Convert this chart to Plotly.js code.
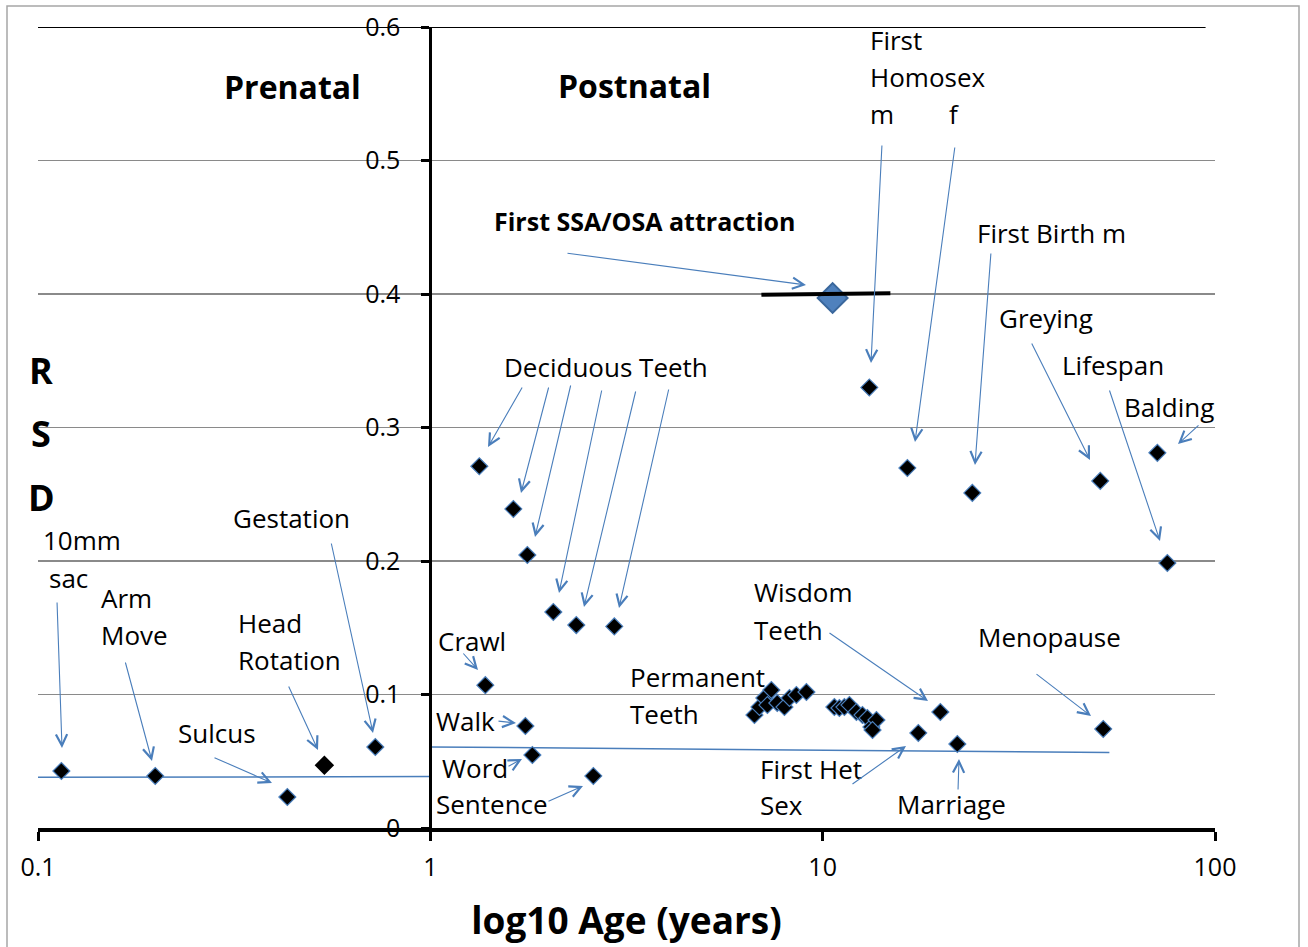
<!DOCTYPE html>
<html>
<head>
<meta charset="utf-8">
<script src="https://cdn.plot.ly/plotly-3.0.1.min.js"></script>
<style>html,body{margin:0;padding:0;background:#fff;}#chart{width:1308px;height:947px;}</style>
</head>
<body>
<div id="chart"></div>
<script>
// ---- data (age in years, RSD) ----
const prenatalAge = [0.1147, 0.199, 0.432, 0.724];       // 10mm sac, arm move, sulcus, gestation
const prenatalRSD = [0.0427, 0.039, 0.0232, 0.0607];
const headRotationAge = [0.537];
const headRotationRSD = [0.047];
const deciduousAge = [1.333, 1.628, 1.767, 2.058, 2.355, 2.944];
const deciduousRSD = [0.271, 0.239, 0.2045, 0.1618, 0.152, 0.151];
const milestoneAge = [1.381, 1.747, 1.820, 2.603];         // crawl, walk, word, sentence
const milestoneRSD = [0.107, 0.0764, 0.0547, 0.039];
const permanentAge = [6.70, 6.90, 7.10, 7.23, 7.40, 7.66, 7.99, 8.23, 8.57, 9.09,
                      10.71, 11.03, 11.36, 11.70, 12.19, 12.63, 13.00, 13.31, 13.71, 13.4];
const permanentRSD = [0.0846, 0.0906, 0.0974, 0.0921, 0.1034, 0.0936, 0.0906, 0.0974, 0.0996, 0.1019,
                      0.0906, 0.0899, 0.0906, 0.0921, 0.0869, 0.0846, 0.0824, 0.0757, 0.0809, 0.0734];
const adultAge = [17.53, 19.95, 22.04, 51.9];               // first het sex, wisdom teeth, marriage, menopause
const adultRSD = [0.0712, 0.0869, 0.0629, 0.0742];
const lateAge = [13.15, 16.44, 24.07, 51.0, 71.3, 75.6];    // homosex m, homosex f, first birth m, greying, balding, lifespan
const lateRSD = [0.330, 0.2697, 0.251, 0.260, 0.281, 0.1985];
const ssaAge = [10.6];
const ssaRSD = [0.397];
const ssaRangeAge = [6.98, 14.88];
const ssaRangeRSD = [0.3995, 0.4005];
const prenatalTrendAge = [0.1, 1];
const prenatalTrendRSD = [0.038, 0.0385];
const postnatalTrendAge = [1, 53.8];
const postnatalTrendRSD = [0.0607, 0.0566];
const xTickVals = [0.1, 1, 10, 100];
const xTickText = ['0.1', '1', '10', '100'];
const yTickVals = [0, 0.1, 0.2, 0.3, 0.4, 0.5, 0.6];
const yTickText = ['0', '0.1', '0.2', '0.3', '0.4', '0.5', '0.6'];

// ---- styling ----
const FONT = 'Open Sans';
const BLUE = '#4a7ebb';
const ptMarker = {symbol: 'diamond', size: 13, color: '#000', line: {color: BLUE, width: 1.2}};

const traces = [
  {x: prenatalTrendAge, y: prenatalTrendRSD, mode: 'lines', line: {color: BLUE, width: 1.5}},
  {x: postnatalTrendAge, y: postnatalTrendRSD, mode: 'lines', line: {color: BLUE, width: 1.5}},
  {x: prenatalAge, y: prenatalRSD, mode: 'markers', marker: ptMarker},
  {x: headRotationAge, y: headRotationRSD, mode: 'markers', marker: {symbol: 'diamond', size: 15, color: '#000', line: {width: 0}}},
  {x: deciduousAge, y: deciduousRSD, mode: 'markers', marker: ptMarker},
  {x: milestoneAge, y: milestoneRSD, mode: 'markers', marker: ptMarker},
  {x: permanentAge, y: permanentRSD, mode: 'markers', marker: ptMarker},
  {x: adultAge, y: adultRSD, mode: 'markers', marker: ptMarker},
  {x: lateAge, y: lateRSD, mode: 'markers', marker: ptMarker},
  {x: ssaAge, y: ssaRSD, mode: 'markers', marker: {symbol: 'diamond', size: 23, color: '#4f81bd', line: {color: '#3a679c', width: 2}}},
  {x: ssaRangeAge, y: ssaRangeRSD, mode: 'lines', line: {color: '#000', width: 4}}
];
traces.forEach(t => { t.type = 'scatter'; t.showlegend = false; t.hoverinfo = 'skip'; t.cliponaxis = false; });

// pixel -> paper helpers for label/arrow placement
const L = 38, PW = 1177, B = 828, PH = 801;
const px = x => (x - L) / PW;
const py = y => (B - y) / PH;
function label(text, x, y, size, bold) {
  return {xref: 'paper', yref: 'paper', x: px(x), y: py(y), xanchor: 'left', yanchor: 'middle',
          text: bold ? '<b>' + text + '</b>' : text, showarrow: false,
          font: {family: FONT, size: size || 26, color: '#000'}};
}
function arrow(tx, ty, hx, hy) {
  return {xref: 'paper', yref: 'paper', x: px(hx), y: py(hy), ax: tx - hx, ay: ty - hy,
          text: '', showarrow: true, arrowhead: 5, arrowsize: 2, arrowwidth: 1.1,
          arrowcolor: BLUE, standoff: 0, startstandoff: 0};
}

const annotations = [
  label('Prenatal', 222, 87, 32, true),
  label('Postnatal', 556, 86, 32, true),
  label('First SSA/OSA attraction', 492, 221, 25, true),
  label('First', 868, 40), label('Homosex', 868, 77), label('m', 868, 114), label('f', 947, 114),
  label('First Birth m', 975, 233),
  label('Greying', 997, 318),
  label('Lifespan', 1060, 365),
  label('Balding', 1122, 407),
  label('Deciduous Teeth', 502, 367),
  label('10mm', 41, 540), label('sac', 47, 578),
  label('Arm', 99, 598), label('Move', 99, 635),
  label('Gestation', 231, 518),
  label('Head', 236, 623), label('Rotation', 236, 660),
  label('Sulcus', 176, 733),
  label('Crawl', 436, 641),
  label('Walk', 434, 721),
  label('Word', 440, 768),
  label('Sentence', 434, 804),
  label('Permanent', 628, 677), label('Teeth', 628, 714),
  label('Wisdom', 752, 592), label('Teeth', 752, 630),
  label('Menopause', 976, 637),
  label('First Het', 758, 769), label('Sex', 758, 805),
  label('Marriage', 895, 804),
  // R S D
  {xref: 'paper', yref: 'paper', x: px(41), y: py(370), xanchor: 'center', yanchor: 'middle', showarrow: false, text: '<b>R</b>', font: {family: FONT, size: 36, color: '#000'}},
  {xref: 'paper', yref: 'paper', x: px(41), y: py(433), xanchor: 'center', yanchor: 'middle', showarrow: false, text: '<b>S</b>', font: {family: FONT, size: 36, color: '#000'}},
  {xref: 'paper', yref: 'paper', x: px(41), y: py(497), xanchor: 'center', yanchor: 'middle', showarrow: false, text: '<b>D</b>', font: {family: FONT, size: 36, color: '#000'}},
  // arrows
  arrow(57, 601, 62, 748),
  arrow(125, 661, 152, 761),
  arrow(213, 757, 272, 783),
  arrow(288, 685, 318, 750),
  arrow(331, 542, 373, 733),
  arrow(523, 386, 488, 447),
  arrow(549, 386, 521, 493),
  arrow(571, 384, 535, 537),
  arrow(602, 389, 559, 593),
  arrow(636, 390, 584, 607),
  arrow(669, 388, 619, 608),
  arrow(462, 652, 478, 670),
  arrow(497, 721, 516, 723),
  arrow(507, 767, 522, 759),
  arrow(547, 802, 583, 786),
  arrow(566, 253, 806, 285),
  arrow(882, 144, 871, 363),
  arrow(955, 146, 915, 442),
  arrow(991, 252, 975, 465),
  arrow(1031, 342, 1090, 460),
  arrow(1109, 389, 1160, 541),
  arrow(1200, 424, 1178, 444),
  arrow(828, 632, 928, 701),
  arrow(1035, 673, 1091, 716),
  arrow(851, 785, 906, 746),
  arrow(958, 791, 959, 759)
];

const layout = {
  width: 1308, height: 947,
  margin: {l: L, r: 1308 - L - PW, t: 27, b: 947 - B},
  paper_bgcolor: '#fff', plot_bgcolor: '#fff',
  font: {family: FONT, color: '#000'},
  showlegend: false,
  xaxis: {
    type: 'log', range: [-1, 2], domain: [0, 1],
    tickmode: 'array', tickvals: xTickVals, ticktext: xTickText,
    ticks: 'outside', ticklen: 9, tickwidth: 3, tickcolor: '#000',
    showline: true, linecolor: '#000', linewidth: 3.5,
    showgrid: false, zeroline: false,
    tickfont: {family: FONT, size: 25, color: '#000'},
    ticklabelstandoff: 5,
    title: {text: '<b>log10 Age (years)</b>', font: {family: FONT, size: 37, color: '#000'}, standoff: 27}
  },
  yaxis: {
    range: [0, 0.6], anchor: 'free', position: 1 / 3,
    tickmode: 'array', tickvals: yTickVals, ticktext: yTickText,
    ticks: 'outside', ticklen: 8, tickwidth: 3, tickcolor: '#000',
    showline: true, linecolor: '#000', linewidth: 3,
    showgrid: true, gridcolor: '#8a8a8a', gridwidth: 1.3,
    zeroline: false,
    tickfont: {family: FONT, size: 25, color: '#000'},
    ticklabelstandoff: 16
  },
  shapes: [
    {type: 'line', xref: 'paper', yref: 'y', x0: 0, x1: 0.992, y0: 0.6, y1: 0.6, line: {color: '#000', width: 2}, layer: 'below'},
    {type: 'rect', xref: 'paper', yref: 'paper', x0: px(7), x1: px(1299), y0: py(952), y1: py(6), line: {color: '#a6a6a6', width: 1.5}}
  ],
  annotations: annotations
};

Plotly.newPlot('chart', traces, layout, {staticPlot: true, displayModeBar: false});
</script>
</body>
</html>
